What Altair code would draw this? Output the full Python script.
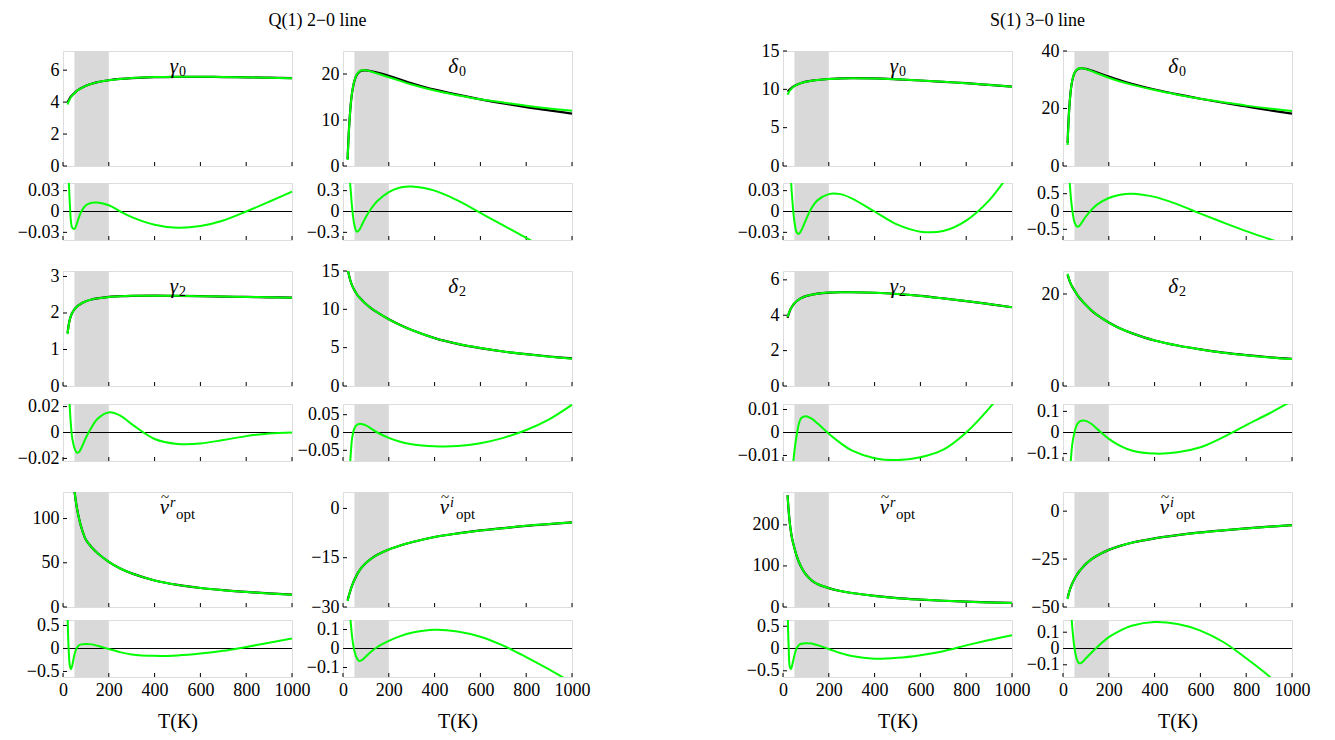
import altair as alt
import pandas as pd

# Temperature grid (K)
T = [20, 25, 30, 35, 40, 50, 60, 70, 80, 100, 125, 150, 200, 250, 300, 400, 500, 600, 700, 800, 900, 1000]
band_lo, band_hi = 50, 200
x_ticks = [0, 200, 400, 600, 800, 1000]

# ---------------- Q(1) 2-0 line ----------------
q_g0_ref = [4.0, 4.12, 4.25, 4.35, 4.43, 4.57, 4.7, 4.8, 4.88, 5.02, 5.15, 5.25, 5.37, 5.45, 5.5, 5.56, 5.58, 5.58, 5.57, 5.55, 5.53, 5.5]
q_g0_fit = [3.85, 4.05, 4.2, 4.32, 4.41, 4.56, 4.69, 4.79, 4.88, 5.02, 5.15, 5.25, 5.37, 5.45, 5.51, 5.57, 5.59, 5.59, 5.57, 5.55, 5.52, 5.49]
q_g0_res = [0.09, 0.045, 0.01, -0.015, -0.023, -0.025, -0.018, -0.008, 0.0, 0.009, 0.0125, 0.013, 0.009, 0.0, -0.008, -0.019, -0.0235, -0.021, -0.013, 0.0, 0.014, 0.0285]

q_d0_ref = [1.5, 7.0, 11.0, 14.0, 16.0, 18.5, 19.8, 20.4, 20.7, 20.8, 20.6, 20.3, 19.6, 18.8, 18.0, 16.6, 15.5, 14.5, 13.6, 12.8, 12.1, 11.4]
q_d0_fit = [1.3, 6.8, 11.0, 14.0, 16.1, 18.6, 19.9, 20.5, 20.8, 20.8, 20.5, 20.1, 19.3, 18.5, 17.7, 16.4, 15.4, 14.5, 13.8, 13.1, 12.5, 12.0]
q_d0_res = [1.2, 0.7, 0.45, 0.25, 0.05, -0.2, -0.29, -0.27, -0.21, -0.08, 0.05, 0.15, 0.28, 0.345, 0.36, 0.3, 0.16, -0.02, -0.2, -0.38, -0.56, -0.74]

q_g2_ref = [1.45, 1.68, 1.83, 1.93, 2.0, 2.1, 2.17, 2.22, 2.26, 2.32, 2.37, 2.4, 2.44, 2.46, 2.47, 2.475, 2.47, 2.46, 2.45, 2.44, 2.43, 2.42]
q_g2_fit = [1.42, 1.67, 1.83, 1.93, 2.0, 2.1, 2.17, 2.22, 2.26, 2.32, 2.37, 2.4, 2.44, 2.46, 2.47, 2.475, 2.47, 2.46, 2.45, 2.44, 2.43, 2.42]
q_g2_res = [0.06, 0.035, 0.018, 0.005, -0.004, -0.012, -0.0155, -0.015, -0.012, -0.004, 0.004, 0.0105, 0.0155, 0.013, 0.0065, -0.005, -0.0088, -0.0085, -0.0058, -0.0028, -0.0008, 0.0]

q_d2_ref = [15.3, 14.6, 14.0, 13.5, 13.1, 12.5, 12.0, 11.6, 11.3, 10.7, 10.1, 9.6, 8.7, 7.95, 7.3, 6.25, 5.5, 4.95, 4.5, 4.15, 3.85, 3.6]
q_d2_fit = [15.2, 14.6, 14.0, 13.5, 13.1, 12.5, 12.0, 11.6, 11.3, 10.7, 10.1, 9.6, 8.7, 7.95, 7.3, 6.25, 5.5, 4.95, 4.5, 4.13, 3.83, 3.55]
q_d2_res = [-0.35, -0.2, -0.1, -0.05, -0.015, 0.012, 0.021, 0.024, 0.024, 0.02, 0.01, 0.0, -0.015, -0.026, -0.033, -0.0385, -0.038, -0.03, -0.015, 0.007, 0.037, 0.078]

q_nr_ref = [250, 215, 190, 172, 157, 131, 113, 100, 90, 76, 67.5, 61, 51, 43.5, 38, 30, 25, 21.5, 19.0, 17.0, 15.4, 14.0]
q_nr_fit = [250, 215, 190, 172, 157, 131, 113, 100, 90, 76, 67.5, 61, 51, 43.5, 38, 30, 25, 21.5, 19.0, 17.0, 15.3, 13.8]
q_nr_res = [0.7, -0.05, -0.38, -0.45, -0.38, -0.13, 0.01, 0.07, 0.09, 0.1, 0.09, 0.06, -0.01, -0.08, -0.13, -0.16, -0.15, -0.11, -0.05, 0.035, 0.125, 0.22]

q_ni_ref = [-28.0, -26.7, -25.5, -24.4, -23.4, -21.7, -20.3, -19.1, -18.1, -16.6, -15.2, -14.1, -12.5, -11.3, -10.3, -8.7, -7.6, -6.7, -6.0, -5.3, -4.75, -4.25]
q_ni_fit = [-28.2, -26.8, -25.5, -24.4, -23.4, -21.7, -20.3, -19.1, -18.1, -16.6, -15.2, -14.1, -12.5, -11.3, -10.3, -8.7, -7.6, -6.7, -6.0, -5.3, -4.75, -4.25]
q_ni_res = [0.5, 0.33, 0.2, 0.12, 0.06, -0.015, -0.05, -0.065, -0.063, -0.042, -0.015, 0.008, 0.04, 0.065, 0.083, 0.099, 0.09, 0.062, 0.015, -0.045, -0.11, -0.18]

# ---------------- S(1) 3-0 line ----------------
s_g0_ref = [9.7, 9.85, 10.0, 10.12, 10.25, 10.45, 10.6, 10.72, 10.83, 11.0, 11.12, 11.22, 11.35, 11.42, 11.46, 11.42, 11.3, 11.15, 10.98, 10.8, 10.58, 10.35]
s_g0_fit = [9.3, 9.6, 9.85, 10.02, 10.18, 10.42, 10.59, 10.72, 10.83, 11.0, 11.12, 11.22, 11.35, 11.42, 11.46, 11.42, 11.3, 11.15, 10.98, 10.8, 10.58, 10.35]
s_g0_res = [0.25, 0.15, 0.09, 0.045, 0.02, -0.015, -0.03, -0.032, -0.027, -0.012, 0.005, 0.016, 0.025, 0.025, 0.019, 0.0, -0.019, -0.029, -0.028, -0.013, 0.016, 0.06]

s_d0_ref = [8.0, 17.0, 23.0, 27.0, 29.5, 32.3, 33.4, 33.9, 34.0, 33.8, 33.2, 32.5, 31.1, 29.8, 28.6, 26.6, 24.9, 23.4, 22.0, 20.7, 19.4, 18.2]
s_d0_fit = [7.3, 16.5, 22.8, 27.0, 29.6, 32.4, 33.5, 34.0, 34.0, 33.7, 33.0, 32.2, 30.7, 29.4, 28.3, 26.4, 24.8, 23.4, 22.2, 21.0, 20.0, 19.1]
s_d0_res = [2.0, 1.3, 0.75, 0.35, 0.07, -0.3, -0.42, -0.41, -0.33, -0.14, 0.05, 0.2, 0.38, 0.47, 0.5, 0.41, 0.2, -0.06, -0.31, -0.55, -0.77, -0.99]

s_g2_ref = [3.85, 4.08, 4.25, 4.4, 4.5, 4.68, 4.8, 4.9, 4.97, 5.08, 5.16, 5.22, 5.28, 5.3, 5.3, 5.27, 5.2, 5.09, 4.95, 4.8, 4.63, 4.45]
s_g2_fit = [3.9, 4.1, 4.26, 4.4, 4.5, 4.68, 4.8, 4.9, 4.97, 5.08, 5.16, 5.22, 5.28, 5.3, 5.3, 5.27, 5.2, 5.09, 4.95, 4.8, 4.63, 4.45]
s_g2_res = [-0.08, -0.055, -0.04, -0.028, -0.019, -0.008, -0.001, 0.004, 0.0063, 0.0071, 0.006, 0.004, -0.0005, -0.0045, -0.0078, -0.0112, -0.012, -0.0108, -0.0075, 0.0, 0.0105, 0.023]

s_d2_ref = [24.2, 23.4, 22.7, 22.1, 21.6, 20.8, 20.0, 19.3, 18.7, 17.6, 16.4, 15.4, 13.8, 12.5, 11.5, 9.9, 8.8, 7.95, 7.25, 6.7, 6.25, 5.9]
s_d2_fit = [24.4, 23.5, 22.7, 22.1, 21.6, 20.8, 20.0, 19.3, 18.7, 17.6, 16.4, 15.4, 13.8, 12.5, 11.5, 9.9, 8.8, 7.95, 7.25, 6.7, 6.22, 5.85]
s_d2_res = [-0.5, -0.33, -0.2, -0.12, -0.06, 0.0, 0.035, 0.05, 0.056, 0.055, 0.04, 0.016, -0.03, -0.063, -0.085, -0.1, -0.094, -0.07, -0.022, 0.035, 0.09, 0.15]

s_nr_ref = [272, 232, 203, 182, 166, 143, 124, 109, 97, 79, 65, 56, 46, 39, 34, 27, 21.5, 18, 15.2, 13.1, 11.3, 9.8]
s_nr_fit = [272, 232, 203, 182, 166, 143, 124, 109, 97, 79, 65, 56, 46, 39, 34, 27, 21.5, 18, 15.2, 13.0, 11.1, 9.5]
s_nr_res = [0.9, 0.0, -0.42, -0.46, -0.38, -0.15, 0.01, 0.08, 0.105, 0.12, 0.11, 0.075, -0.01, -0.1, -0.17, -0.23, -0.21, -0.15, -0.06, 0.07, 0.19, 0.3]

s_ni_ref = [-45.5, -43.0, -41.0, -39.3, -37.9, -35.4, -33.3, -31.6, -30.1, -27.5, -25.0, -23.1, -20.2, -18.1, -16.5, -14.2, -12.5, -11.1, -10.0, -9.0, -8.1, -7.3]
s_ni_fit = [-45.8, -43.1, -41.0, -39.3, -37.9, -35.4, -33.3, -31.6, -30.1, -27.5, -25.0, -23.1, -20.2, -18.1, -16.5, -14.2, -12.5, -11.1, -10.0, -9.0, -8.1, -7.3]
s_ni_res = [0.8, 0.55, 0.37, 0.24, 0.14, 0.005, -0.065, -0.09, -0.088, -0.06, -0.025, 0.01, 0.07, 0.11, 0.14, 0.163, 0.15, 0.11, 0.04, -0.06, -0.17, -0.3]

group_titles = ["Q(1) 2\u22120 line", "S(1) 3\u22120 line"]

# panel definitions: (ref, fit, domain, ticks, glyph, sup, sub), (res, domain, ticks)
groups = [
    [
        [((q_g0_ref, q_g0_fit, [0, 7.2], [0, 2, 4, 6], "\u03b3", "", "0"), (q_g0_res, [-0.041, 0.041], [-0.03, 0, 0.03])),
         ((q_d0_ref, q_d0_fit, [0, 25], [0, 10, 20], "\u03b4", "", "0"), (q_d0_res, [-0.41, 0.41], [-0.3, 0, 0.3]))],
        [((q_g2_ref, q_g2_fit, [0, 3.15], [0, 1, 2, 3], "\u03b3", "", "2"), (q_g2_res, [-0.022, 0.022], [-0.02, 0, 0.02])),
         ((q_d2_ref, q_d2_fit, [0, 15], [0, 5, 10, 15], "\u03b4", "", "2"), (q_d2_res, [-0.08, 0.08], [-0.05, 0, 0.05]))],
        [((q_nr_ref, q_nr_fit, [0, 130], [0, 50, 100], "\u03bd", "r", "opt"), (q_nr_res, [-0.62, 0.62], [-0.5, 0, 0.5])),
         ((q_ni_ref, q_ni_fit, [-30, 5], [-30, -15, 0], "\u03bd", "i", "opt"), (q_ni_res, [-0.15, 0.15], [-0.1, 0, 0.1]))],
    ],
    [
        [((s_g0_ref, s_g0_fit, [0, 15], [0, 5, 10, 15], "\u03b3", "", "0"), (s_g0_res, [-0.041, 0.041], [-0.03, 0, 0.03])),
         ((s_d0_ref, s_d0_fit, [0, 40], [0, 20, 40], "\u03b4", "", "0"), (s_d0_res, [-0.8, 0.8], [-0.5, 0, 0.5]))],
        [((s_g2_ref, s_g2_fit, [0, 6.5], [0, 2, 4, 6], "\u03b3", "", "2"), (s_g2_res, [-0.0124, 0.0124], [-0.01, 0, 0.01])),
         ((s_d2_ref, s_d2_fit, [0, 25], [0, 20], "\u03b4", "", "2"), (s_d2_res, [-0.135, 0.135], [-0.1, 0, 0.1]))],
        [((s_nr_ref, s_nr_fit, [0, 280], [0, 100, 200], "\u03bd", "r", "opt"), (s_nr_res, [-0.64, 0.64], [-0.5, 0, 0.5])),
         ((s_ni_ref, s_ni_fit, [-50, 10], [-50, -25, 0], "\u03bd", "i", "opt"), (s_ni_res, [-0.175, 0.175], [-0.1, 0, 0.1]))],
    ],
]

FONT = "Liberation Serif"
W = 229
H_MAIN = 115
H_RES = 57
H_TITLE = 39
GAP_COL = 51
GAP_GROUP_EXTRA = 109     # spacer column between the two groups
INNER_GAPS = [17, 18, 13]  # main -> residual
BLOCK_GAP = 31             # residual -> next main
GREEN = "#00ff00"
GRAY = "#d9d9d9"
INTERP = "catmull-rom"
TICK_LEN = 4

band_df = pd.DataFrame({"t0": [band_lo], "t1": [band_hi]})
one_df = pd.DataFrame({"a": [0]})
zero_df = pd.DataFrame({"v": [0.0]})
xtick_df = pd.DataFrame({"T": x_ticks})


def xenc(field, bottom):
    if bottom:
        ax = alt.Axis(values=x_ticks, format="d", labelFont=FONT, labelFontSize=18,
                      labelColor="black", labelFlush=False, labelPadding=4,
                      ticks=False, domain=False, grid=False, labelOverlap=False,
                      title="T(K)", titleFont=FONT, titleFontSize=20,
                      titleFontWeight="normal", titleColor="black", titlePadding=12)
    else:
        ax = None
    return alt.X(field, scale=alt.Scale(domain=[0, 1000], nice=False, zero=False), axis=ax)


def yenc(dom, ticks):
    return alt.Y("v:Q", scale=alt.Scale(domain=dom, nice=False, zero=False),
                 axis=alt.Axis(values=ticks, format=".2~f", labelFont=FONT, labelFontSize=18,
                               labelColor="black", labelPadding=4, ticks=False,
                               domain=False, grid=False, title=None, labelOverlap=False),
                 title=None)


def spacer(w, h):
    return alt.Chart(one_df).mark_point(opacity=0).encode(
        x=alt.value(0), y=alt.value(0)
    ).properties(width=w, height=h, view=alt.ViewBackground(stroke="transparent"))


def title_cell(text):
    t = alt.Chart(one_df).mark_text(text=text, font=FONT, fontSize=18, align="center",
                                    baseline="top", color="black").encode(
        x=alt.value(W + GAP_COL / 2), y=alt.value(0))
    return t.properties(width=W, height=H_TITLE, view=alt.ViewBackground(stroke="transparent"))


def band_layer(bottom):
    return alt.Chart(band_df).mark_rect(color=GRAY).encode(
        x=xenc("t0:Q", bottom), x2="t1:Q"
    )


def ytick_layer(dom, ticks):
    # small inward frame ticks at the labelled values (left edge)
    return alt.Chart(pd.DataFrame({"v": ticks})).mark_rule(color="black", strokeWidth=1).encode(
        x=alt.value(0), x2=alt.value(TICK_LEN), y=yenc(dom, ticks)
    )


def xtick_layer(h, bottom):
    # small inward frame ticks on the bottom edge
    return alt.Chart(xtick_df).mark_rule(color="black", strokeWidth=1).encode(
        x=xenc("T:Q", bottom), y=alt.value(h - TICK_LEN), y2=alt.value(h)
    )


def line_layer(vals, dom, ticks, color, width, bottom):
    df = pd.DataFrame({"T": T, "v": vals})
    return alt.Chart(df).mark_line(color=color, strokeWidth=width, clip=True,
                                   interpolate=INTERP).encode(
        x=xenc("T:Q", bottom), y=yenc(dom, ticks)
    )


def txt(text, x, y, size, italic=False, align="left"):
    kw = dict(text=text, font=FONT, fontSize=size, align=align, baseline="middle", color="black")
    if italic:
        kw["fontStyle"] = "italic"
    return alt.Chart(one_df).mark_text(**kw).encode(x=alt.value(x), y=alt.value(y))


def label_layers(glyph, sup, sub):
    if sup:
        gx, gy = 106, 16
        return [txt(glyph, gx, gy, 21, italic=True, align="right"),
                txt("~", gx - 4, gy - 11, 15, align="center"),
                txt(sup, gx + 1, gy - 5, 14, italic=True),
                txt(sub, gx + 7, gy + 6, 15)]
    gx, gy = 115, 16
    return [txt(glyph, gx, gy, 21, italic=True, align="right"),
            txt(sub, gx + 1, gy + 5, 14)]


def main_panel(spec):
    ref, fit, dom, ticks, glyph, sup, sub = spec
    layers = [band_layer(False),
              ytick_layer(dom, ticks),
              xtick_layer(H_MAIN, False),
              line_layer(ref, dom, ticks, "black", 2.2, False),
              line_layer(fit, dom, ticks, GREEN, 2.0, False)]
    layers += label_layers(glyph, sup, sub)
    return alt.layer(*layers).properties(width=W, height=H_MAIN)


def res_panel(spec, bottom):
    res, dom, ticks = spec
    zero = alt.Chart(zero_df).mark_rule(color="black", strokeWidth=1).encode(y=yenc(dom, ticks))
    layers = [band_layer(bottom), zero, ytick_layer(dom, ticks), xtick_layer(H_RES, bottom),
              line_layer(res, dom, ticks, GREEN, 2.0, bottom)]
    return alt.layer(*layers).properties(width=W, height=H_RES)


def gap_row(h):
    return [spacer(1, h), spacer(1, 1), spacer(GAP_GROUP_EXTRA, 1), spacer(1, 1), spacer(1, 1)]


# Grid: columns = [g1c1, g1c2, spacer, g2c1, g2c2]
cells = [title_cell(group_titles[0]), spacer(1, 1), spacer(GAP_GROUP_EXTRA, 1),
         title_cell(group_titles[1]), spacer(1, 1)]
for ri in range(3):
    bottom = ri == 2
    cells += [main_panel(groups[0][ri][0][0]), main_panel(groups[0][ri][1][0]),
              spacer(GAP_GROUP_EXTRA, 1),
              main_panel(groups[1][ri][0][0]), main_panel(groups[1][ri][1][0])]
    cells += gap_row(INNER_GAPS[ri])
    cells += [res_panel(groups[0][ri][0][1], bottom), res_panel(groups[0][ri][1][1], bottom),
              spacer(GAP_GROUP_EXTRA, 1),
              res_panel(groups[1][ri][0][1], bottom), res_panel(groups[1][ri][1][1], bottom)]
    if ri < 2:
        cells += gap_row(BLOCK_GAP)

chart = alt.concat(*cells, columns=5, spacing={"row": 0, "column": GAP_COL}, bounds="flush").properties(
    padding={"left": 8, "top": 0, "right": 5, "bottom": 5}
).configure_view(stroke="black", strokeWidth=1.3).configure(font=FONT, background="white")

chart.save("out.html", embed_options={"renderer": "svg", "actions": False})
